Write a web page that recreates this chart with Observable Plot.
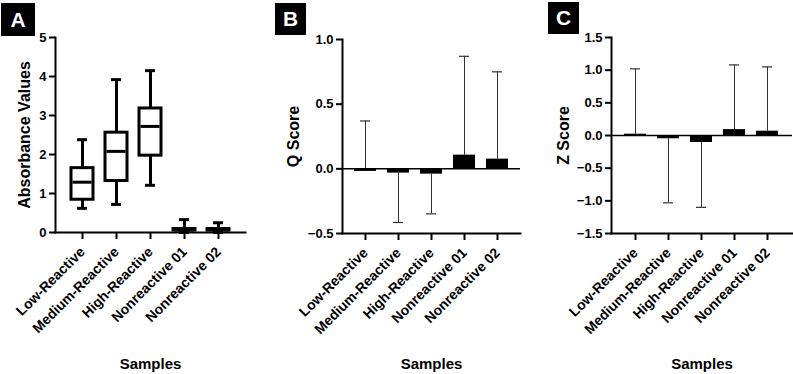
<!DOCTYPE html>
<html>
<head>
<meta charset="utf-8">
<script src="https://cdn.jsdelivr.net/npm/d3@7"></script>
<script src="https://cdn.jsdelivr.net/npm/@observablehq/plot@0.6"></script>
<style>
  html, body { margin: 0; padding: 0; background: #fff; }
  #wrap { position: relative; width: 793px; height: 374px; overflow: hidden; font-family: "Liberation Sans", Arial, sans-serif; }
  .panel { position: absolute; top: 0; }
  .tag { position: absolute; background: #000; color: #fff; font-weight: bold; font-size: 21px;
         display: flex; align-items: center; justify-content: center; font-family: "Liberation Sans", Arial, sans-serif; }
</style>
</head>
<body>
<div id="wrap"></div>
<script>
const categories = ["Low-Reactive", "Medium-Reactive", "High-Reactive", "Nonreactive 01", "Nonreactive 02"];

// Panel A: absorbance box plot statistics
const boxMin    = [0.62, 0.72, 1.21, 0.00, 0.00];
const boxQ1     = [0.84, 1.32, 1.97, 0.05, 0.05];
const boxMedian = [1.29, 2.08, 2.72, 0.07, 0.07];
const boxQ3     = [1.65, 2.56, 3.18, 0.09, 0.09];
const boxMax    = [2.38, 3.92, 4.15, 0.33, 0.25];
const absTicks  = [0, 1, 2, 3, 4, 5];

// Panel B: Q score (bar) and error bar end
const qScore  = [-0.02, -0.033, -0.041, 0.106, 0.075];
const qErrEnd = [0.37, -0.415, -0.348, 0.87, 0.75];
const qTicks  = [-0.5, 0, 0.5, 1.0];

// Panel C: Z score (bar) and error bar end
const zScore  = [0.02, -0.05, -0.107, 0.09, 0.066];
const zErrEnd = [1.02, -1.03, -1.10, 1.08, 1.05];
const zTicks  = [-1.5, -1.0, -0.5, 0, 0.5, 1.0, 1.5];

const panelLetters = ["A", "B", "C"];
const yLabels = ["Absorbance Values", "Q Score", "Z Score"];
const xLabel = "Samples";

const FONT = "'Liberation Sans', Arial, sans-serif";
const wrap = document.getElementById("wrap");

const baseStyle = {fontFamily: FONT, fontWeight: "bold", fontSize: "13px", color: "#000", background: "transparent", overflow: "visible"};

function xAxis() {
  return Plot.axisX({tickRotate: -45, tickSize: 7, tickPadding: 10, fontSize: 14, strokeWidth: 2, label: null});
}

// ---- Panel A ----
const boxTable = categories.map((c, i) => ({category: c, min: boxMin[i], q1: boxQ1[i], med: boxMedian[i], q3: boxQ3[i], max: boxMax[i]}));
const plotA = Plot.plot({
  width: 265, height: 374,
  marginLeft: 55, marginRight: 20, marginTop: 37, marginBottom: 142,
  style: baseStyle,
  x: {domain: categories, paddingInner: 0.34, paddingOuter: 0.385, label: null},
  y: {domain: [0, 5], label: null},
  marks: [
    Plot.axisY({ticks: absTicks, tickSize: 6, tickPadding: 3, fontSize: 13, strokeWidth: 2, label: null, tickFormat: d3.format("d")}),
    xAxis(),
    Plot.ruleX(boxTable, {x: "category", y1: "min", y2: "q1", stroke: "#000", strokeWidth: 3}),
    Plot.ruleX(boxTable, {x: "category", y1: "q3", y2: "max", stroke: "#000", strokeWidth: 3}),
    Plot.tickY(boxTable, {x: "category", y: "min", insetLeft: 6, insetRight: 6, stroke: "#000", strokeWidth: 3}),
    Plot.tickY(boxTable, {x: "category", y: "max", insetLeft: 6, insetRight: 6, stroke: "#000", strokeWidth: 3}),
    Plot.barY(boxTable, {x: "category", y1: "q1", y2: "q3", fill: "#fff", stroke: "#000", strokeWidth: 3}),
    Plot.tickY(boxTable, {x: "category", y: "med", stroke: "#000", strokeWidth: 3, insetLeft: 1.5, insetRight: 1.5}),
    Plot.frame({anchor: "left", stroke: "#000", strokeWidth: 2}),
    Plot.frame({anchor: "bottom", stroke: "#000", strokeWidth: 2}),
    Plot.text([yLabels[0]], {text: d => d, frameAnchor: "left", textAnchor: "middle", lineAnchor: "middle", rotate: -90, dx: -31, fontSize: 16, fontWeight: "bold"}),
    Plot.text([xLabel], {text: d => d, frameAnchor: "bottom", textAnchor: "middle", lineAnchor: "middle", dy: 132, fontSize: 15, fontWeight: "bold"})
  ]
});

// ---- Panel B / C ----
function scorePanel(values, errs, ticks, domain, yLabel, opts) {
  const table = categories.map((c, i) => ({category: c, value: values[i], err: errs[i]}));
  return Plot.plot({
    width: opts.width, height: 374,
    marginLeft: opts.ml, marginRight: opts.mr, marginTop: opts.mt, marginBottom: opts.mb,
    style: baseStyle,
    x: {domain: categories, paddingInner: 0.32, paddingOuter: opts.po, label: null},
    y: {domain, label: null},
    marks: [
      Plot.axisY({ticks, tickSize: 6, tickPadding: 3, fontSize: 13, strokeWidth: 2, label: null, tickFormat: d3.format(".1f")}),
      xAxis(),
      Plot.ruleX(table, {x: "category", y1: "value", y2: "err", stroke: "#333", strokeWidth: 1}),
      Plot.tickY(table, {x: "category", y: "err", insetLeft: 6, insetRight: 6, stroke: "#333", strokeWidth: 1.2}),
      Plot.ruleY([0], {stroke: "#000", strokeWidth: 1.5}),
      Plot.barY(table, {x: "category", y1: 0, y2: "value", fill: "#000"}),
      Plot.frame({anchor: "left", stroke: "#000", strokeWidth: 2}),
      Plot.frame({anchor: "bottom", stroke: "#000", strokeWidth: 2}),
      Plot.text([yLabel], {text: d => d, frameAnchor: "left", textAnchor: "middle", lineAnchor: "middle", rotate: -90, dx: opts.ldx, fontSize: 16, fontWeight: "bold"}),
      Plot.text([xLabel], {text: d => d, frameAnchor: "bottom", textAnchor: "middle", lineAnchor: "middle", dy: 131, fontSize: 15, fontWeight: "bold"})
    ]
  });
}

const plotB = scorePanel(qScore, qErrEnd, qTicks, [-0.5, 1.0], yLabels[1],
  {width: 265, ml: 77, mr: 10, mt: 39, mb: 141, po: 0.315, ldx: -49});
const plotC = scorePanel(zScore, zErrEnd, zTicks, [-1.5, 1.5], yLabels[2],
  {width: 263, ml: 81, mr: 1, mt: 37, mb: 141, po: 0.38, ldx: -48});

[[plotA, 0], [plotB, 265], [plotC, 530]].forEach(([svg, left]) => {
  svg.classList.add("panel");
  svg.style.left = left + "px";
  wrap.appendChild(svg);
});

// panel letter tags
const tagPos = [[1, 3, 34, 33], [275, 3, 31, 32], [548, 2, 31, 32]];
panelLetters.forEach((L, i) => {
  const d = document.createElement("div");
  d.className = "tag";
  d.textContent = L;
  const [x, y, w, h] = tagPos[i];
  d.style.left = x + "px"; d.style.top = y + "px";
  d.style.width = w + "px"; d.style.height = h + "px";
  wrap.appendChild(d);
});
</script>
</body>
</html>
